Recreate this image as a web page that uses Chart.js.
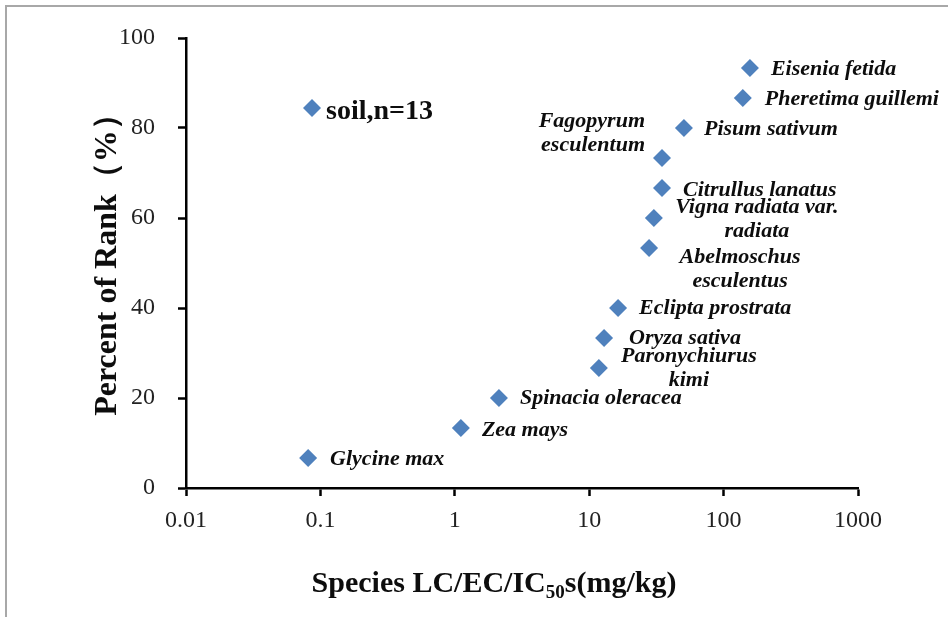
<!DOCTYPE html>
<html lang="en">
<head>
<meta charset="UTF-8">
<title>Species sensitivity - soil</title>
<script src="https://cdn.jsdelivr.net/npm/chart.js@4.4.0/dist/chart.umd.min.js"></script>
<style>
  body { margin: 0; background: #fff; }
  #wrap { width: 948px; height: 617px; }
</style>
</head>
<body>
<div id="wrap"><canvas id="chart" width="948" height="617"></canvas></div>
<script>
// data
var species = ['Glycine max', 'Zea mays', 'Spinacia oleracea', 'Paronychiurus\nkimi', 'Oryza sativa',
  'Eclipta prostrata', 'Abelmoschus\nesculentus', 'Vigna radiata var.\nradiata', 'Citrullus lanatus',
  'Fagopyrum\nesculentum', 'Pisum sativum', 'Pheretima guillemi', 'Eisenia fetida'];
var lcValues = [0.081, 1.11, 2.13, 11.8, 12.9, 16.4, 27.9, 30.3, 34.8, 34.8, 50.7, 139, 157];
var rankPct = [6.67, 13.33, 20, 26.67, 33.33, 40, 53.33, 60, 66.67, 73.33, 80, 86.67, 93.33];
var seriesName = 'soil,n=13';
var xTickVals = [0.01, 0.1, 1, 10, 100, 1000];
var xTickLabels = ['0.01', '0.1', '1', '10', '100', '1000'];
var yTickLabels = ['0', '20', '40', '60', '80', '100'];

// where each label sits relative to its point: dx, dy of first line, align
var labelPlace = [
  [22, 1, 'left'], [21, 2, 'left'], [21, 0, 'left'], [90, -12, 'center'], [25, 0, 'left'],
  [21, 0, 'left'], [91, 9, 'center'], [103, -11, 'center'], [21, 2, 'left'],
  [-17, -37, 'right'], [20, 1, 'left'], [22, 1, 'left'], [21, 1, 'left']
];

var blue = '#4F81BD';
var serif = '"Liberation Serif", "Times New Roman", serif';

var pts = [];
for (var i = 0; i < lcValues.length; i++) pts.push({x: lcValues[i], y: rankPct[i]});

var drawExtras = {
  id: 'drawExtras',
  beforeDraw: function(chart) {
    var ctx = chart.ctx;
    ctx.save();
    ctx.fillStyle = '#fff';
    ctx.fillRect(0, 0, chart.width, chart.height);
    // picture frame (left + top only)
    ctx.strokeStyle = '#a8a8a8';
    ctx.lineWidth = 2;
    ctx.beginPath();
    ctx.moveTo(6, chart.height);
    ctx.lineTo(6, 6);
    ctx.lineTo(chart.width, 6);
    ctx.stroke();
    ctx.restore();
  },
  afterDatasetsDraw: function(chart) {
    var ctx = chart.ctx;
    var meta = chart.getDatasetMeta(0);
    ctx.save();
    ctx.fillStyle = '#0d0d0d';
    ctx.font = 'italic bold 22px ' + serif;
    ctx.textBaseline = 'middle';
    meta.data.forEach(function(p, i) {
      var pl = labelPlace[i];
      var lines = species[i].split('\n');
      ctx.textAlign = pl[2];
      lines.forEach(function(t, k) {
        ctx.fillText(t, p.x + pl[0], p.y + pl[1] + k * 24);
      });
    });

    // legend inside the plot
    var lx = 312, ly = 108, r = 9;
    ctx.fillStyle = blue;
    ctx.beginPath();
    ctx.moveTo(lx, ly - r);
    ctx.lineTo(lx + r, ly);
    ctx.lineTo(lx, ly + r);
    ctx.lineTo(lx - r, ly);
    ctx.closePath();
    ctx.fill();
    ctx.fillStyle = '#0d0d0d';
    ctx.font = 'bold 28px ' + serif;
    ctx.textAlign = 'left';
    ctx.textBaseline = 'alphabetic';
    ctx.fillText(seriesName, 326, 119);

    // y axis title
    ctx.save();
    ctx.translate(116, 257);
    ctx.rotate(-Math.PI / 2);
    ctx.font = 'bold 32px ' + serif;
    ctx.textAlign = 'center';
    ctx.fillText('Percent of Rank（%）', 0, 0);
    ctx.restore();

    // x axis title with subscript
    var a = 'Species LC/EC/IC', sub = '50', b = 's(mg/kg)';
    ctx.font = 'bold 30px ' + serif;
    var wa = ctx.measureText(a).width, wb = ctx.measureText(b).width;
    ctx.font = 'bold 19px ' + serif;
    var ws = ctx.measureText(sub).width;
    var x0 = 494 - (wa + ws + wb) / 2;
    ctx.textAlign = 'left';
    ctx.font = 'bold 30px ' + serif;
    ctx.fillText(a, x0, 592);
    ctx.font = 'bold 19px ' + serif;
    ctx.fillText(sub, x0 + wa, 598);
    ctx.font = 'bold 30px ' + serif;
    ctx.fillText(b, x0 + wa + ws, 592);
    ctx.restore();
  }
};

var axisGrid = {
  display: true,
  drawOnChartArea: false,
  drawTicks: true,
  tickLength: 8,
  tickColor: '#000',
  tickWidth: 2.5
};

new Chart(document.getElementById('chart'), {
  type: 'scatter',
  data: {
    datasets: [{
      label: seriesName,
      data: pts,
      pointStyle: 'rectRot',
      pointRadius: 9,
      backgroundColor: blue,
      borderColor: blue,
      borderWidth: 0
    }]
  },
  options: {
    responsive: false,
    animation: false,
    events: [],
    layout: { padding: { top: 38, right: 90, left: 0, bottom: 0 } },
    plugins: { legend: { display: false }, tooltip: { enabled: false } },
    scales: {
      x: {
        type: 'logarithmic',
        min: 0.01,
        max: 1000,
        afterFit: function(s) { s.height = 129; },
        afterBuildTicks: function(s) { s.ticks = xTickVals.map(function(v) { return {value: v}; }); },
        border: { display: true, color: '#000', width: 2.5 },
        grid: axisGrid,
        ticks: {
          autoSkip: false,
          maxRotation: 0,
          padding: 10,
          color: '#222',
          font: { family: serif, size: 24 },
          callback: function(v, i) { return xTickLabels[i]; }
        }
      },
      y: {
        min: 0,
        max: 100,
        afterFit: function(s) { s.width = 186; },
        border: { display: true, color: '#000', width: 2.5 },
        grid: axisGrid,
        ticks: {
          stepSize: 20,
          padding: 23,
          color: '#222',
          font: { family: serif, size: 24 },
          callback: function(v, i) { return yTickLabels[i]; }
        }
      }
    }
  },
  plugins: [drawExtras]
});
</script>
</body>
</html>
